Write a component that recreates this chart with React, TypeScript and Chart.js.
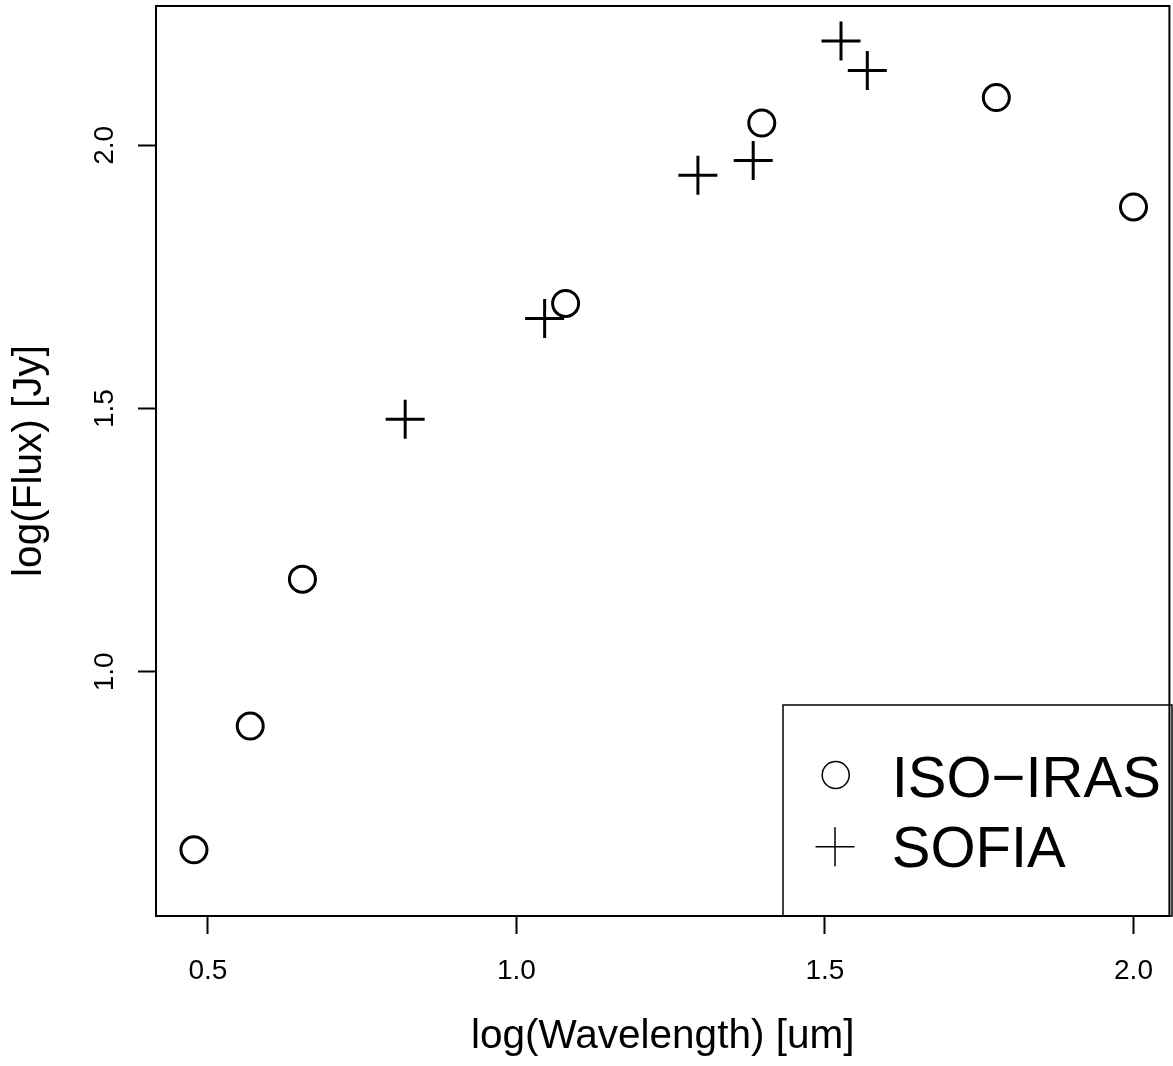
import React, { useEffect, useRef } from "react";
import Chart from "chart.js/auto";

const isoLogWavelength = [0.4774, 0.5686, 0.6532, 1.0797, 1.3976, 1.7777, 2.0];
const isoLogFlux = [0.662, 0.8969, 1.176, 1.6995, 2.0423, 2.0906, 1.8829];
const sofiaLogWavelength = [0.8197, 1.0457, 1.2941, 1.3837, 1.526, 1.5686];
const sofiaLogFlux = [1.4798, 1.671, 1.943, 1.971, 2.198, 2.1418];
const xTicks = [0.5, 1.0, 1.5, 2.0];
const yTicks = [1.0, 1.5, 2.0];
const seriesLabels = ["ISO\u2212IRAS", "SOFIA"];
const xTitle = "log(Wavelength) [um]";
const yTitle = "log(Flux) [Jy]";

const FONT = "'Liberation Sans', Arial, Helvetica, sans-serif";

export default function App() {
  const ref = useRef<HTMLCanvasElement | null>(null);

  useEffect(() => {
    const canvas = ref.current;
    if (!canvas) return;

    const framePlugin = {
      id: "framePlugin",
      afterDraw(chart: any) {
        const ctx = chart.ctx;
        const a = chart.chartArea;
        ctx.save();
        ctx.strokeStyle = "#000";
        ctx.lineWidth = 2;
        ctx.strokeRect(a.left, a.top, a.right - a.left, a.bottom - a.top);

        // y tick labels (rotated, R style)
        const ys = chart.scales.y;
        ctx.fillStyle = "#000";
        ctx.font = `28px ${FONT}`;
        ctx.textAlign = "center";
        ctx.textBaseline = "alphabetic";
        ys.ticks.forEach((t: any) => {
          const py = ys.getPixelForValue(t.value);
          ctx.save();
          ctx.translate(113, py);
          ctx.rotate(-Math.PI / 2);
          ctx.fillText(Number(t.value).toFixed(1), 0, 0);
          ctx.restore();
        });

        // legend
        const lx = 783, ly = 705, lw = 389, lh = 211;
        ctx.lineWidth = 1.5;
        ctx.strokeRect(lx, ly, lw, lh);
        ctx.beginPath();
        ctx.arc(835.7, 775, 13.5, 0, Math.PI * 2);
        ctx.stroke();
        ctx.beginPath();
        ctx.moveTo(835 - 19.5, 846.7);
        ctx.lineTo(835 + 19.5, 846.7);
        ctx.moveTo(835, 846.7 - 19.5);
        ctx.lineTo(835, 846.7 + 19.5);
        ctx.stroke();
        ctx.font = `58px ${FONT}`;
        ctx.textAlign = "left";
        ctx.fillText(chart.data.datasets[0].label, 891.7, 797.3);
        ctx.fillText(chart.data.datasets[1].label, 891.7, 866.7);
        ctx.restore();
      },
    };

    const chart = new Chart(canvas, {
      type: "scatter",
      data: {
        datasets: [
          {
            label: seriesLabels[0],
            data: isoLogWavelength.map((x, i) => ({ x, y: isoLogFlux[i] })),
            pointStyle: "circle",
            pointRadius: 13,
            pointBorderWidth: 3,
            pointBorderColor: "#000",
            pointBackgroundColor: "rgba(0,0,0,0)",
            showLine: false,
          },
          {
            label: seriesLabels[1],
            data: sofiaLogWavelength.map((x, i) => ({ x, y: sofiaLogFlux[i] })),
            pointStyle: "cross",
            pointRadius: 19.5,
            pointBorderWidth: 3,
            pointBorderColor: "#000",
            pointBackgroundColor: "#000",
            showLine: false,
          },
        ],
      },
      options: {
        animation: false,
        responsive: false,
        events: [],
        layout: { autoPadding: false, padding: { top: 6, right: 1, left: 0, bottom: 0 } },
        plugins: { legend: { display: false }, tooltip: { enabled: false } },
        scales: {
          x: {
            type: "linear",
            min: 0.4159,
            max: 2.0582,
            afterBuildTicks: (s: any) => {
              s.ticks = xTicks.map((v) => ({ value: v }));
            },
            afterFit: (s: any) => {
              s.height = 150;
            },
            ticks: {
              color: "#000",
              font: { family: FONT, size: 28, lineHeight: 1.2 },
              padding: 20,
              maxRotation: 0,
              minRotation: 0,
              callback: (v: any) => Number(v).toFixed(1),
            },
            grid: {
              display: true,
              drawOnChartArea: false,
              drawTicks: true,
              tickLength: 18,
              tickWidth: 2,
              tickColor: "#000",
              color: "#000",
            },
            border: { display: true, color: "#000", width: 2 },
            title: {
              display: true,
              text: xTitle,
              color: "#000",
              font: { family: FONT, size: 40.5, lineHeight: 1.2 },
              padding: { top: 0, bottom: 5 },
            },
          },
          y: {
            type: "linear",
            min: 0.5362,
            max: 2.2645,
            afterBuildTicks: (s: any) => {
              s.ticks = yTicks.map((v) => ({ value: v }));
            },
            afterFit: (s: any) => {
              s.width = 156;
            },
            ticks: { display: false },
            grid: {
              display: true,
              drawOnChartArea: false,
              drawTicks: true,
              tickLength: 18,
              tickWidth: 2,
              tickColor: "#000",
              color: "#000",
            },
            border: { display: true, color: "#000", width: 2 },
            title: {
              display: true,
              text: yTitle,
              color: "#000",
              font: { family: FONT, size: 40.5, lineHeight: 1.2 },
              padding: { top: 6, bottom: 0 },
            },
          },
        },
      },
      plugins: [framePlugin],
    });

    return () => chart.destroy();
  }, []);

  return (
    <div style={{ position: "absolute", left: 0, top: 0, width: 1173, height: 1066, background: "#fff" }}>
      <canvas ref={ref} width={1173} height={1066} style={{ display: "block" }} />
    </div>
  );
}
